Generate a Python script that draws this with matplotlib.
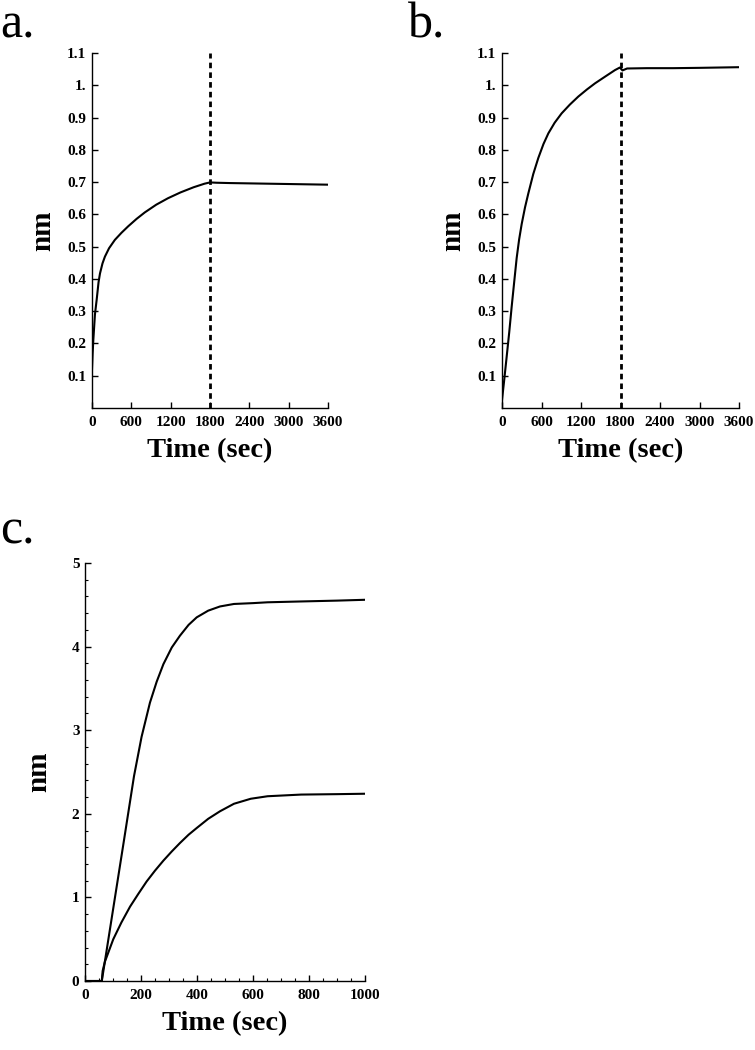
import matplotlib
matplotlib.use("Agg")
from matplotlib import pyplot as plt
from matplotlib.ticker import MultipleLocator

plt.rcParams['font.family'] = ['Liberation Serif', 'DejaVu Serif']

# panel a: association then dissociation (time in sec, response in nm)
a_time = [0, 10, 20, 45, 71, 100, 122, 160, 197, 260, 349, 450, 552, 680, 805, 980, 1159, 1350, 1550, 1716, 1800,
          1900, 2100, 2400, 2700, 3000, 3300, 3600]
a_nm = [0.12, 0.17, 0.21, 0.29, 0.335, 0.39, 0.417, 0.448, 0.469, 0.495, 0.521, 0.543, 0.563, 0.586, 0.606, 0.63,
        0.65, 0.668, 0.684, 0.695, 0.699, 0.698, 0.697, 0.696, 0.695, 0.694, 0.693, 0.692]

# panel b
b_time = [0, 30, 71, 110, 147, 185, 223, 260, 299, 350, 400, 475, 552, 630, 704, 800, 906, 1030, 1159, 1290, 1413,
          1560, 1716, 1790, 1830, 1900, 2200, 2600, 3000, 3300, 3600]
b_nm = [0.025, 0.08, 0.159, 0.235, 0.314, 0.39, 0.465, 0.522, 0.57, 0.622, 0.665, 0.725, 0.775, 0.818, 0.851, 0.884,
        0.913, 0.94, 0.965, 0.987, 1.006, 1.026, 1.047, 1.055, 1.046, 1.052, 1.053, 1.053, 1.054, 1.055, 1.056]

# panel c: two curves
c_time_hi = [0, 60, 100, 140, 175, 202, 232, 256, 280, 310, 339, 370, 399, 440, 482, 532, 600, 652, 772, 900, 1000]
c_nm_hi = [0, 0, 0.85, 1.7, 2.45, 2.92, 3.33, 3.58, 3.79, 3.99, 4.13, 4.26, 4.35, 4.43, 4.48, 4.51, 4.52, 4.53,
           4.54, 4.55, 4.56]
c_time_lo = [0, 60, 63, 71, 101, 130, 161, 190, 220, 250, 280, 310, 339, 370, 399, 440, 482, 532, 592, 652, 772,
             900, 1000]
c_nm_lo = [0, 0, 0.12, 0.23, 0.5, 0.7, 0.89, 1.04, 1.19, 1.32, 1.44, 1.55, 1.65, 1.75, 1.83, 1.94, 2.03, 2.12, 2.18,
           2.21, 2.23, 2.235, 2.24]

ab_yticks = [0.1, 0.2, 0.3, 0.4, 0.5, 0.6, 0.7, 0.8, 0.9, 1.0, 1.1]
ab_ylabels = ['0.1', '0.2', '0.3', '0.4', '0.5', '0.6', '0.7', '0.8', '0.9', '1.', '1.1']
ab_xticks = [0, 600, 1200, 1800, 2400, 3000, 3600]
c_xticks = [0, 200, 400, 600, 800, 1000]
c_yticks = [0, 1, 2, 3, 4, 5]

W, H = 755, 1050


def box(l, t, r, b):
    return [l / W, (H - b) / H, (r - l) / W, (b - t) / H]


def style(ax):
    for s in ['top', 'right']:
        ax.spines[s].set_visible(False)
    for s in ['left', 'bottom']:
        ax.spines[s].set_linewidth(1.0)
    ax.tick_params(direction='in', length=4, width=1, labelsize=11)
    ax.tick_params(axis='y', pad=4)
    ax.tick_params(axis='x', pad=6)
    for lab in ax.get_xticklabels() + ax.get_yticklabels():
        lab.set_fontweight('bold')


fig = plt.figure(figsize=(7.55, 10.5), dpi=100)

for (l, r), t, v, letter, lx in [((92, 328), a_time, a_nm, 'a.', 0), ((502, 739), b_time, b_nm, 'b.', 408)]:
    ax = fig.add_axes(box(l, 53, r, 408))
    ax.plot(t, v, color='black', lw=1.5)
    ax.axvline(1800, color='black', lw=2.0, linestyle=(0, (2, 1.5)))
    ax.set_xlim(0, 3600)
    ax.set_ylim(0, 1.1)
    ax.set_xticks(ab_xticks)
    ax.set_yticks(ab_yticks)
    ax.set_yticklabels(ab_ylabels)
    style(ax)
    ax.set_xlabel('Time (sec)', fontsize=20.5, fontweight='bold', labelpad=6)
    ax.set_ylabel('nm', fontsize=21, fontweight='bold', labelpad=8)
    fig.text(lx / W, 1 - 37 / H, letter, fontsize=36, ha='left', va='baseline')

axc = fig.add_axes(box(85, 563, 365, 981))
axc.plot(c_time_hi, c_nm_hi, color='black', lw=1.5)
axc.plot(c_time_lo, c_nm_lo, color='black', lw=1.5)
axc.set_xlim(0, 1000)
axc.set_ylim(0, 5)
axc.set_xticks(c_xticks)
axc.set_yticks(c_yticks)
axc.xaxis.set_minor_locator(MultipleLocator(50))
axc.yaxis.set_minor_locator(MultipleLocator(0.2))
style(axc)
axc.tick_params(which='minor', direction='in', length=2.5, width=0.8)
axc.set_xlabel('Time (sec)', fontsize=20.5, fontweight='bold', labelpad=6)
axc.set_ylabel('nm', fontsize=21, fontweight='bold', labelpad=14)
fig.text(0, 1 - 543 / H, 'c.', fontsize=36, ha='left', va='baseline')

fig.savefig('out.png', dpi=100)
